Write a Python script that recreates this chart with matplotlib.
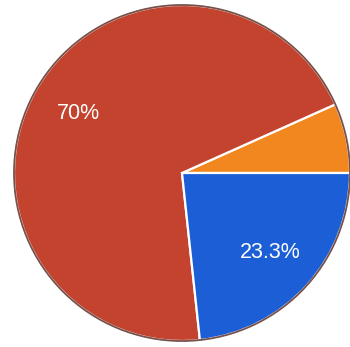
import matplotlib.pyplot as plt

# Share of each slice, drawn counter-clockwise from 3 o'clock
shares = [6.7, 70.0, 23.3]
colors = ["#f2871f", "#c3432f", "#1c5ed6"]


def pct_label(p):
    # small slice stays unlabelled; whole numbers drop the ".0"
    if p < 10:
        return ""
    return f"{p:.1f}".rstrip("0").rstrip(".") + "%"


W, H = 350, 347
cx, cy, r = 182, 173, 168  # pie centre and radius in pixels

fig = plt.figure(figsize=(W / 100, H / 100), dpi=100)
ax = fig.add_axes([0, 0, 1, 1])

wedges, texts, autotexts = ax.pie(
    shares,
    colors=colors,
    startangle=0,
    counterclock=True,
    autopct=pct_label,
    pctdistance=0.71,
    wedgeprops=dict(edgecolor="white", linewidth=1.6),
    textprops=dict(color="white", fontsize=15.5, family="Liberation Sans"),
)

# dark rim round the outside of the pie, covering the white wedge outline
rim = plt.Circle((0, 0), 1.0, fill=False, edgecolor="#4a160c", linewidth=1.3, alpha=0.75)
ax.add_patch(rim)

ax.set_xlim(-cx / r, (W - cx) / r)
ax.set_ylim(-(H - cy) / r, cy / r)
ax.set_aspect("auto")
ax.axis("off")

fig.savefig("out.png", dpi=100, facecolor="white")
